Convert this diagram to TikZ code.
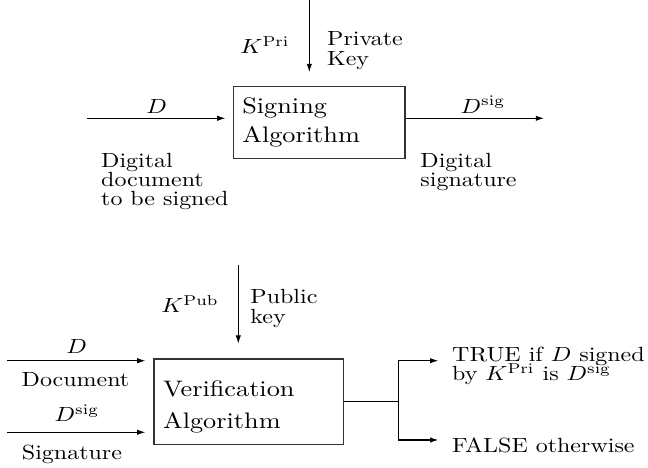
\documentclass[tikz,border=0pt]{standalone}
\usetikzlibrary{arrows.meta}
\lineskiplimit=-20pt
\begin{document}
\begin{tikzpicture}[x=0.4878pt,y=-0.4878pt,
  lbl/.style={inner sep=0pt, xscale=1.17, align=left,
    font=\fontsize{10}{9.4}\selectfont},
  algbox/.style={draw=black!80, line width=0.6pt, inner xsep=3.75pt, inner ysep=0pt,
    xscale=1.17, align=left},
  arr/.style={line width=0.5pt, -{Latex[length=4pt,width=2.6pt]}},
  ln/.style={line width=0.5pt}]
\useasboundingbox (0,0) rectangle (648,468);

% ---------- signing ----------
\node[algbox, minimum width=71.6pt, minimum height=34.9pt, text width=64.1pt,
  font=\fontsize{10.95}{14.2}\selectfont] (sign) at (319.2,122.5) {Signing\\Algorithm};
\coordinate (kpritop) at (309.3,0);
\coordinate (dinstart) at (86.7,118.3);
\coordinate (dsigend) at (544,118.3);

\draw[arr, shorten >=6.8pt] (kpritop) -- (kpritop |- sign.north);
\draw[arr, shorten >=3.5pt] (dinstart) -- (dinstart -| sign.west);
\draw[arr] (dsigend -| sign.east) -- (dsigend);

\node[lbl, anchor=base] (kpri) at (265,54) {$K^{\mathrm{Pri}}$};
\node[lbl, anchor=north west] (privkey) at (326.7,31.5) {Private\\Key};
\node[lbl, anchor=base] (dtop) at (156.7,113.3) {$D$};
\node[lbl, anchor=base] (dsigtop) at (483,113.3) {$D^{\mathrm{sig}}$};
\node[lbl, anchor=north west] (docdesc) at (100.7,152.5) {Digital\\document\\to be signed};
\node[lbl, anchor=north west] (sigdesc) at (420,152.5) {Digital\\signature};

% ---------- verification ----------
\node[algbox, minimum width=78.9pt, minimum height=41.6pt, text width=71.4pt,
  font=\fontsize{10.95}{15.4}\selectfont] (verif) at (248.7,401.7)
  {\rule{0pt}{12.7pt}Verification\\Algorithm};
\coordinate (kpubtop) at (238.3,265);
\coordinate (din) at (7.3,360.7);
\coordinate (dsigin) at (7.3,432.3);
\coordinate (jt) at (398.3,360.7);
\coordinate (jb) at (398.3,440);
\coordinate (truetip) at (438.3,360.7);
\coordinate (falsetip) at (438.3,440);

\draw[arr, shorten >=7.2pt] (kpubtop) -- (kpubtop |- verif.north);
\draw[arr, shorten >=3.9pt] (din) -- (din -| verif.west);
\draw[arr, shorten >=3.9pt] (dsigin) -- (dsigin -| verif.west);
\draw[ln] (verif.east) -- (verif.east -| jt);
\draw[ln] (jt) -- (jb);
\draw[arr] (jt) -- (truetip);
\draw[arr] (jb) -- (falsetip);

\node[lbl, anchor=base] (kpub) at (190,312.7) {$K^{\mathrm{Pub}}$};
\node[lbl, anchor=north west] (pubkey) at (250,289.1) {Public\\key};
\node[lbl, anchor=base] (dbot) at (76.7,353.5) {$D$};
\node[lbl, anchor=base] (docu) at (75.5,387) {Document};
\node[lbl, anchor=base] (dsigbot) at (77,422) {$D^{\mathrm{sig}}$};
\node[lbl, anchor=base] (signat) at (72,460) {Signature};
\node[lbl, anchor=north west] (truetxt) at (451.7,346.8)
  {TRUE if $D$ signed\\by $K^{\mathrm{Pri}}$ is $D^{\mathrm{sig}}$};
\node[lbl, anchor=base west] (falsetxt) at (451.7,453) {FALSE otherwise};
\end{tikzpicture}
\end{document}
